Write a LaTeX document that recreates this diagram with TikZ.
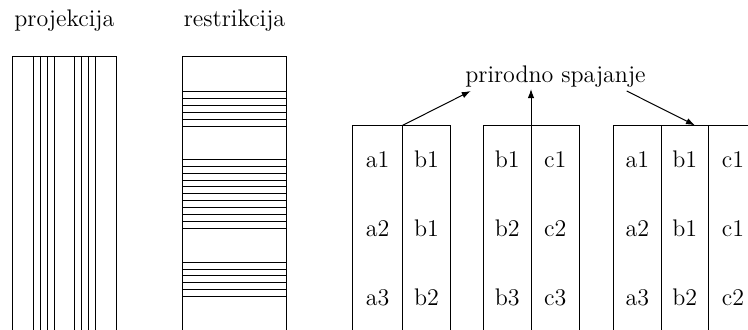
\documentclass[tikz,border=0pt]{standalone}
\usetikzlibrary{arrows.meta}
\begin{document}
\begin{tikzpicture}[x=0.5pt,y=-0.5pt,
  rule/.style={line width=0.5pt},
  title/.style={font=\fontsize{12}{14.4}\selectfont,anchor=base,inner sep=0pt},
  cell/.style={font=\fontsize{12}{14.4}\selectfont,anchor=base,inner sep=0pt},
  joinarrow/.style={line width=0.5pt,-{Latex[length=4.5pt,width=3.2pt]}}]
\clip (0,0) rectangle (748,329);

% headings
\node[title] (proj) at (64.3,26) {projekcija};
\node[title] (restr) at (234.5,26) {restrikcija};

% projection: a relation cut into columns
\draw[rule] (12.7,340) -- (12.7,56) -- (116,56) -- (116,340);
\foreach \x in {33.3,40.7,47.3,54.5,74.7,81.7,88.3,95.7}
  \draw[rule] (\x,56) -- (\x,340);

% restriction: a relation cut into rows
\draw[rule] (182.7,340) -- (182.7,56) -- (286.3,56) -- (286.3,340);
\foreach \y in {91,98,105,112,119,126,
                159.3,166.2,173.1,180,186.9,193.8,200.7,207.6,214.5,221.4,228.3,
                262.3,269.1,275.9,282.7,289.5,296.3}
  \draw[rule] (182.7,\y) -- (286.3,\y);

% three tables for the natural join
\draw[rule] (352.7,340) -- (352.7,125.3) -- (450,125.3) -- (450,340);
\draw[rule] (402.7,125.3) -- (402.7,340);
\draw[rule] (483.3,340) -- (483.3,125.3) -- (579.7,125.3) -- (579.7,340);
\draw[rule] (531,125.3) -- (531,340);
\draw[rule] (613.3,340) -- (613.3,125.3) -- (760,125.3);
\draw[rule] (661.3,125.3) -- (661.3,340);
\draw[rule] (708.3,125.3) -- (708.3,340);
\draw[rule] (756,125.3) -- (756,340);

% first table
\node[cell] (t1a1) at (377.7,167.3) {a1};
\node[cell] (t1b1) at (426.5,167.3) {b1};
\node[cell] (t1a2) at (377.7,236.3) {a2};
\node[cell] (t1b2) at (426.5,236.3) {b1};
\node[cell] (t1a3) at (377.7,305.3) {a3};
\node[cell] (t1b3) at (426.5,305.3) {b2};

% second table
\node[cell] (t2b1) at (507.2,167.3) {b1};
\node[cell] (t2c1) at (555.3,167.3) {c1};
\node[cell] (t2b2) at (507.2,236.3) {b2};
\node[cell] (t2c2) at (555.3,236.3) {c2};
\node[cell] (t2b3) at (507.2,305.3) {b3};
\node[cell] (t2c3) at (555.3,305.3) {c3};

% joined table
\node[cell] (t3a1) at (637.3,167.3) {a1};
\node[cell] (t3b1) at (684.8,167.3) {b1};
\node[cell] (t3c1) at (733,167.3) {c1};
\node[cell] (t3a2) at (637.3,236.3) {a2};
\node[cell] (t3b2) at (684.8,236.3) {b1};
\node[cell] (t3c2) at (733,236.3) {c1};
\node[cell] (t3a3) at (637.3,305.3) {a3};
\node[cell] (t3b3) at (684.8,305.3) {b2};
\node[cell] (t3c3) at (733,305.3) {c2};

% natural join label and its arrows
\node[title] (join) at (555.5,82) {prirodno spajanje};
\coordinate (s1) at (402.7,125.3);
\coordinate (e1) at (470.7,91);
\coordinate (s2) at (531,125.3);
\coordinate (e2) at (531,89);
\coordinate (s3) at (626.7,91);
\coordinate (e3) at (695,125.3);
\draw[joinarrow] (s1) -- (e1);
\draw[joinarrow] (s2) -- (e2);
\draw[joinarrow] (s3) -- (e3);
\end{tikzpicture}
\end{document}
